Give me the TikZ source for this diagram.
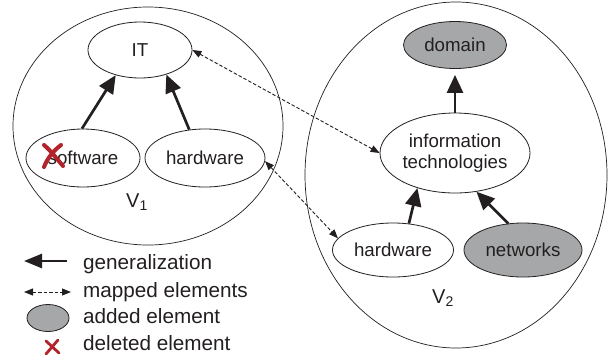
\documentclass[tikz,border=0pt]{standalone}
\usepackage{fontspec}
\setmainfont{Liberation Sans}
\usetikzlibrary{shapes.geometric,arrows.meta}
\definecolor{ink}{RGB}{35,31,32}
\definecolor{addfill}{RGB}{166,167,168}
\definecolor{delred}{RGB}{178,36,42}

\begin{document}
\begin{tikzpicture}[x=1pt,y=-1pt,
  every node/.style={text=ink},
  view/.style={draw=ink,ellipse,line width=0.7pt,inner sep=0pt},
  concept/.style={draw=ink,ellipse,line width=0.8pt,inner sep=0pt,fill=white,
    font=\fontsize{18.7}{21}\selectfont,align=center},
  added/.style={concept,fill=addfill},
  viewlabel/.style={font=\fontsize{20}{22}\selectfont,anchor=base},
  keytext/.style={font=\fontsize{20.7}{23}\selectfont,anchor=base west,inner sep=0pt},
  gen/.style={draw=ink,line width=2.7pt,-{Triangle[length=18pt,width=16pt]}},
  genkey/.style={draw=ink,line width=2.7pt,-{Triangle[length=18pt,width=14pt]}},
  mapped/.style={draw=ink,line width=0.9pt,dash pattern=on 3.5pt off 2pt,
    {Triangle[length=9pt,width=7pt]}-{Triangle[length=9pt,width=7pt]}},
  cross/.style={draw=delred,line width=4pt,line cap=round}
]
\useasboundingbox (0,0) rectangle (610,354);

% the two views
\node[view,minimum width=270,minimum height=238] (v1) at (148,126) {};
\node[view,minimum width=302,minimum height=346] (v2) at (456,175) {};

% concepts of V1
\node[concept,minimum width=104,minimum height=56] (it)  at (140,50)  {IT};
\node[concept,minimum width=114,minimum height=58] (sw)  at (83,158)  {software};
\node[concept,minimum width=120,minimum height=58] (hwl) at (205,158) {hardware};
\node[viewlabel] (v1lab) at (137,207) {V\textsubscript{1}};

% concepts of V2
\node[added,minimum width=103,minimum height=47]   (dom) at (455,45)  {domain};
\node[concept,minimum width=150,minimum height=80] (itt) at (455,153) {information\\technologies};
\node[concept,minimum width=121,minimum height=54] (hwr) at (393,250) {hardware};
\node[added,minimum width=118,minimum height=54]   (net) at (523,250) {networks};
\node[viewlabel] (v2lab) at (443,303) {V\textsubscript{2}};

% generalization links
\draw[gen] (sw.92)  -- (it.226);
\draw[gen] (hwl.119) -- (it.317);
\draw[gen,shorten >=6pt] (itt.90) -- (dom.270);
\draw[gen] (hwr.59)  -- (itt.223);
\draw[gen] (net.119) -- (itt.299);

% mapped elements
\draw[mapped] (it.east) -- (itt.west);
\draw[mapped] (hwl.357) -- (hwr.168);

% deleted element mark over "software"
\draw[cross] (44,145) .. controls (51,151) and (57,159) .. (63,166);
\draw[cross] (61,145) .. controls (53,151) and (47,159) .. (44,167);

% legend
\coordinate (g1) at (67,261);
\coordinate (g0) at (24,261);
\draw[genkey] (g1) -- (g0);
\node[keytext] (k1) at (83,269) {generalization};

\coordinate (m0) at (24,292);
\coordinate (m1) at (71,292);
\draw[mapped] (m0) -- (m1);
\node[keytext] (k2) at (83,297) {mapped elements};

\node[added,minimum width=42,minimum height=27] (addkey) at (48,318) {};
\node[keytext] (k3) at (83,323) {added element};

\draw[cross,line width=2.8pt] (46,341) -- (59,353);
\draw[cross,line width=2.8pt] (58,340) -- (46,354);
\node[keytext] (k4) at (83,350) {deleted element};
\end{tikzpicture}
\end{document}
